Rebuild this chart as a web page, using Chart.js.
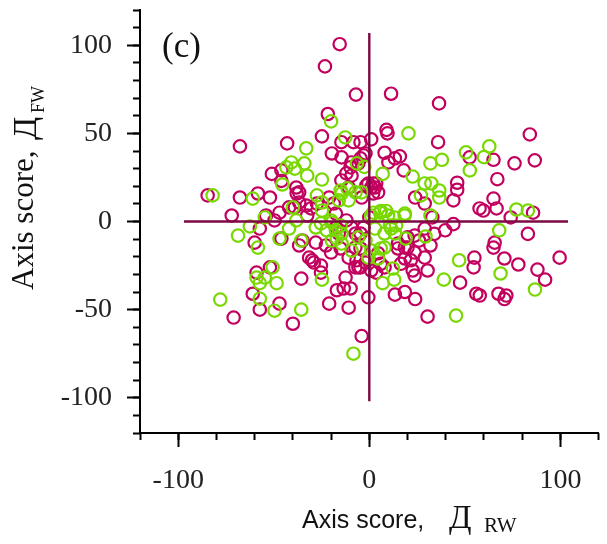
<!DOCTYPE html>
<html lang="en">
<head>
    <meta charset="UTF-8">
    <title>Axis scores (c)</title>
    <script src="https://cdn.jsdelivr.net/npm/chart.js"></script>
    <style>
        body {
            margin: 0;
            background: #fff;
        }
        .wrap {
            position: relative;
            width: 607px;
            height: 544px;
        }
        .lbl {
            position: absolute;
            white-space: nowrap;
            line-height: 1;
            color: #111;
        }
        .serif { font-family: 'Liberation Serif', 'DejaVu Serif', serif; }
        .sans { font-family: 'Liberation Sans', Arial, sans-serif; }
        .rot {
            position: absolute;
            left: 33px;
            top: 290px;
            width: 0;
            height: 0;
            transform-origin: 0 0;
            transform: rotate(-90deg);
        }
    </style>
</head>
<body>
    <div class="wrap">
        <canvas id="chartCanvas" width="607" height="544"></canvas>

        <!-- panel letter -->
        <div class="lbl serif" style="left:162px; top:28px; font-size:35px;">(c)</div>

        <!-- x title -->
        <div class="lbl sans" style="left:302px; top:507px; font-size:25px;">Axis score,</div>
        <div class="lbl serif" style="left:449px; top:501px; font-size:33px;">Д</div>
        <div class="lbl serif" style="left:484px; top:515px; font-size:21px;">RW</div>

        <!-- y title, rotated, origin on the baseline where the text starts -->
        <div class="rot">
            <div class="lbl serif" style="left:0; top:-26px; font-size:31px;">Axis score,</div>
            <div class="lbl serif" style="left:150px; top:-25px; font-size:34px;">Д</div>
            <div class="lbl serif" style="left:177px; top:-4px; font-size:18px;">FW</div>
        </div>
    </div>
    <script>
        // scores: [Д_RW, Д_FW]
        const magentaPts = [
            [-15.5,100.6],[-23.2,88],[-7,72],[11.4,72.5],[36.5,67],[-21.7,61],[9,52],[9.5,50],[1,46.6],[36,45],[84,49.4],
            [8,39],[16,37],[-2,38.6],[10,33.5],[18,29],[52.5,36.4],[65,35],[76,33],[86.6,34.7],[67,24],[24,13.6],[46,22],
            [46,18],[44,12],[65,13],[66.6,7.4],[57.7,7.4],[59.7,6.2],[85.7,5],[3,19.3],[33,2.3],[44,-1.5],[-4,13.6],[74,2.3],
            [83,-7],[39.7,-5],[34,-7],[29,-4],[23.7,-8],[26,-10.8],[15,-15.3],[23.7,-17.6],[18.6,-21],[22.7,-27.8],[23.7,-30.7],
            [30.5,-27.8],[55,-20.5],[54.6,-26],[65,-14.8],[65.6,-12],[70.7,-21],[78,-24.4],[88,-27.3],[92,-33],[99.6,-20.5],
            [56,-41],[57.8,-42],[67.6,-41],[71.7,-42],[70.7,-44],[47.5,-34.7],[30.5,-54],[24,-44],[18.6,-40],[13.4,-41.5],
            [-0.5,-43],[-4,-65],[3.6,-29],[32,-13.6],[16.5,-24],[4.6,-18],[6,-24],[-4.6,-26],
            [-24.8,48.3],[-14.6,45],[-8.3,45],[-4.6,45],[-67.7,42.6],[-43,44.3],[-9.3,33.5],[-51,27],[-46,29],[-46,23],
            [-38.2,19.3],[-14.6,23.3],[-10.8,19.3],[-9.3,26],[-1.5,20.5],[1,19.3],[-21,13.6],[-18.6,10.2],[-27.4,10.2],
            [-30.5,7.4],[-36.7,16.5],[-58.3,15.9],[-52,13.6],[-67.7,13.6],[-84.6,14.8],[-72,3.4],[-54,3.4],[-47,5],[-42,8],
            [-39,8],[-33,9],[-17.5,4.5],
            [-57.3,-4],[-60,-12],[-49.6,0.6],[-46,-9.7],[-36.7,-13.6],[-31.5,-20.5],[-30,-22],[-25.3,-29],[-35.6,-32.4],
            [-28,-12],[-22.7,-13.6],[-20,-17.6],[-15,-15.3],[-10.8,-20.5],[-5.7,-26],[-12.4,-31.8],[-17,-39],[-13.4,-38],
            [-9.8,-38],[-21,-46.6],[-10.8,-48.9],[-40,-58],[-47,-46.6],[-57.3,-50],[-61,-41],[-71,-54.5],[-59,-29],[-52,-26],
            [29,10.2],[2,21.6],[4.6,16.5],[-4.6,35.8],[-3,37.5],[-5.7,33],[-9.8,30.7],[-12,27.3],[-19.6,38.6],[-14.5,36.4],
            [13.4,35.8],[-38,15.9],[-36.7,10.8],[-32.5,3.4],[-17.5,-3.4],[-16,-6.8],[-12,0.6],[-9.3,-3.4],[-7.2,-6.8],
            [-4.6,-6.8],[-3,-3.4],[20,-9],[20,-14.8],[15,-12.5],[18.6,-14.8],[29,-20.5],[21.7,-22],[-29,-23.3],[-25.3,-25],
            [-35,-10.8],[-7.3,-14.8],[-4.6,-15.3],[-6.7,-22],[-2,-23.3],[-7.3,-26],[8,-26],[1,-27.8],[-0.5,21.6],[3.6,21.6],
            [2,15.9],[0,2.3]
        ];
        const greenPts = [
            [20.5,50],[7,27],[-6.5,33],[22.7,25.5],[32,33],[38,35],[50.6,39.2],[60,36.5],[62.8,42.6],[52.6,29],[29,21.6],
            [32.5,21.6],[36.6,17.6],[36.6,13.6],[27,14.8],[6,6],[8.8,6],[1,3.4],[18.5,3.4],[13,2.3],[32,3.4],[77,6.8],[83,6.2],
            [68,-5],[29.4,-8.5],[19,-9.7],[47,-22],[68.7,-29.5],[86.7,-38.6],[39,-33],[45.4,-53.4],[13,-33],[12.4,-26.7],[7,-35],
            [-20,56.8],[-12.6,47.7],[-33,41.5],[-2.6,31],[-34,33],[-40.8,33.5],[-43.4,30.7],[-39,30],[-45.5,21],[-32.5,26],
            [-24.8,23.8],[-15,17.6],[-11.4,18.8],[-7.2,16.5],[-4.1,16.5],[-10.8,12],[-16,12],[-27.4,14.8],[-24.8,10.8],
            [-14.5,15.9],[-61,13],[-82,14.8],[-54.7,2.3],[-40,8],[-24.8,6.2],[-19.6,-0.6],[-15,-2.3],[-68.7,-8],[-62.5,-2.8],
            [-58.3,-14.8],[-47,-9.7],[-42,-4],[-38.2,0.6],[-35.6,-10.8],[-24.8,-33],[-25.3,-1.1],[-20,0.6],[-17.5,-5],
            [-14.5,-12.5],[-9.3,-16.5],[-8.3,-75],[-35.6,-50],[-49.6,-50.6],[-57.3,-43.8],[-78,-44.3],[-59,-31.8],[-54.7,-31.8],
            [-57.3,-35],[-50.6,-26],[-48.5,-35],
            [-28,-3.4],[-22.3,-5],[-14.5,-6.8],[-17,-9.7],[-19.6,-10.8],[-5.7,-9],[-2,-10.8],[3,-4],[8,-6.8],[11.4,-4],
            [13.4,-6.8],[1,-16.5],[6,-15.3],[8,-14.8],[-0.5,-20.5],[4.6,-21],[2,5],[5.7,5],[9.8,3.4],[18.6,4.5],[10.8,-2.3],[14,-2.3]
        ];
        // cross through the origin
        const crossX = [-97, 104];
        const crossY = [-102, 107];

        const axisRange = [-120, 120];
        const xMajorStep = 100, xMinorStep = 20;
        const yMajorStep = 50, yMinorStep = 10;

        const toXY = p => ({ x: p[0], y: p[1] });
        const tickFont = { family: "'Liberation Serif', 'DejaVu Serif', serif", size: 28 };

        // fixed box size, and no extra room for the end labels
        function fixBox(w, h) {
            return s => {
                if (w !== null) s.width = w;
                if (h !== null) s.height = h;
                s.paddingTop = s.paddingBottom = s.paddingLeft = s.paddingRight = 0;
            };
        }

        function ringSet(pts, color, order) {
            return {
                data: pts.map(toXY),
                borderColor: color,
                backgroundColor: 'rgba(0,0,0,0)',
                borderWidth: 2.2,
                pointRadius: 6.2,
                order: order
            };
        }
        function crossLine(data) {
            return {
                type: 'line',
                data: data,
                borderColor: '#7e0845',
                borderWidth: 2.4,
                pointRadius: 0,
                showLine: true,
                fill: false,
                order: 0
            };
        }

        const ctx = document.getElementById('chartCanvas').getContext('2d');
        new Chart(ctx, {
            type: 'scatter',
            data: {
                datasets: [
                    ringSet(magentaPts, '#c2005e', 2),
                    ringSet(greenPts, '#78d800', 1),
                    crossLine(crossX.map(x => ({ x: x, y: 0 }))),
                    crossLine(crossY.map(y => ({ x: 0, y: y })))
                ]
            },
            options: {
                responsive: false,
                animation: false,
                layout: { padding: { top: 10, right: 1, left: 0, bottom: 0 } },
                plugins: { legend: { display: false }, tooltip: { enabled: false } },
                scales: {
                    x: {
                        type: 'linear', position: 'bottom', weight: 1,
                        min: axisRange[0], max: axisRange[1],
                        ticks: { stepSize: xMajorStep, includeBounds: false, autoSkip: false, maxRotation: 0,
                                 padding: 17, color: '#222', font: tickFont },
                        grid: { drawOnChartArea: false, tickLength: 14, tickWidth: 2, tickColor: '#000' },
                        border: { color: '#000', width: 2 },
                        afterFit: fixBox(null, 111)
                    },
                    xMinor: {
                        axis: 'x', type: 'linear', position: 'bottom', weight: 0,
                        min: axisRange[0], max: axisRange[1],
                        ticks: { stepSize: xMinorStep, display: false },
                        grid: { drawOnChartArea: false, tickLength: 7, tickWidth: 2, tickColor: '#000' },
                        border: { display: false },
                        afterFit: fixBox(null, 0)
                    },
                    y: {
                        type: 'linear', position: 'left', weight: 1,
                        min: axisRange[0], max: axisRange[1],
                        ticks: { stepSize: yMajorStep, includeBounds: false, autoSkip: false,
                                 padding: 15, color: '#222', font: tickFont },
                        grid: { drawOnChartArea: false, tickLength: 13, tickWidth: 2, tickColor: '#000' },
                        border: { color: '#000', width: 2 },
                        afterFit: fixBox(140, null)
                    },
                    yMinor: {
                        axis: 'y', type: 'linear', position: 'left', weight: 0,
                        min: axisRange[0], max: axisRange[1],
                        ticks: { stepSize: yMinorStep, display: false },
                        grid: { drawOnChartArea: false, tickLength: 7, tickWidth: 2, tickColor: '#000' },
                        border: { display: false },
                        afterFit: fixBox(0, null)
                    }
                }
            }
        });
    </script>
</body>
</html>
